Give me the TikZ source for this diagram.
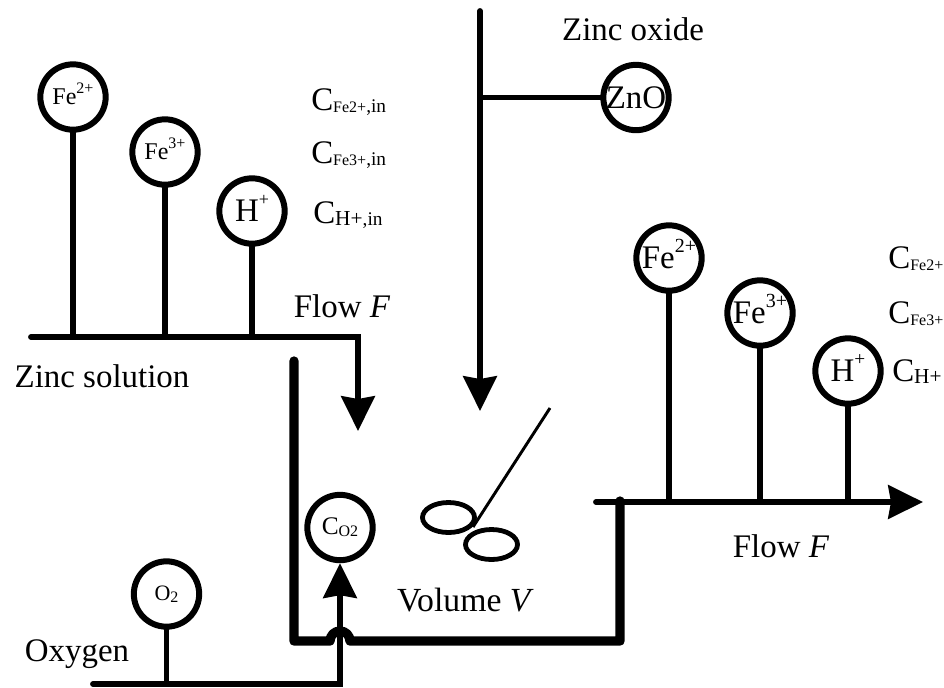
\documentclass[tikz,border=0pt]{standalone}
\usepackage{fontspec}
\setmainfont{Liberation Serif}
\usetikzlibrary{arrows.meta, calc}
\newcommand{\figArrow}{{Stealth[length=26pt, width=25pt, inset=2pt]}}
\newcommand{\bigFont}{\fontsize{24.7}{28}\selectfont}
\newcommand{\midFont}{\fontsize{19}{23}\selectfont}
\newcommand{\smallFont}{\fontsize{18}{22}\selectfont}
\newcommand{\subText}[2]{\raisebox{-1.5pt}{\fontsize{#1}{#1}\selectfont #2}}
\newcommand{\supText}[2]{\smash{\raisebox{0.48em}{\fontsize{#1}{#1}\selectfont #2}}}
\tikzset{
	ion/.style={circle, draw=black, line width=4.5pt, fill=white, minimum size=49pt, inner sep=0pt},
	stem/.style={line width=4.4pt, line cap=round},
	wall/.style={line width=7pt, line join=round, line cap=round},
	txt/.style={inner sep=0pt, font=\bigFont},
	conc/.style={inner sep=0pt, anchor=west, font=\bigFont},
}
\begin{document}
\begin{tikzpicture}[x=0.75pt, y=-0.75pt]
	\useasboundingbox (0,0) rectangle (944,687);

	% inlet
	\node[ion, font=\smallFont] (FeIIin) at (73,97) {Fe\supText{12}{2+}};
	\node[ion, font=\smallFont] (FeIIIin) at (165,152) {Fe\supText{12}{3+}};
	\node[ion, font=\bigFont] (Hin) at (252,211) {H\supText{13.5}{+}};
	\coordinate (inStart) at (31,337);
	\coordinate (inCorner) at (358,337);
	\coordinate (inEnd) at (358,431);
	\draw[stem, -\figArrow] (inStart) -- (inCorner) -- (inEnd);
	\draw[stem] (FeIIin) -- (FeIIin |- inStart);
	\draw[stem] (FeIIIin) -- (FeIIIin |- inStart);
	\draw[stem] (Hin) -- (Hin |- inStart);
	\node[conc] (cFeIIin) at (311,102) {C\subText{12}{Fe2+}\subText{14.5}{,in}};
	\node[conc] (cFeIIIin) at (311,155) {C\subText{12}{Fe3+}\subText{14.5}{,in}};
	\node[conc] (cHin) at (313,215) {C\subText{16}{H+}\subText{14.5}{,in}};
	\node[txt] (flowIn) at (342,306) {Flow \textit{F}};
	\node[txt] (zincSol) at (102,376) {Zinc solution};

	% zinc oxide
	\node[ion, font=\bigFont] (ZnO) at (636,97.5) {ZnO};
	\node[txt] (zincOx) at (633,29) {Zinc oxide};
	\coordinate (oxStart) at (480,11);
	\coordinate (oxEnd) at (480,411);
	\draw[stem, -\figArrow] (oxStart) -- (oxEnd);
	\draw[stem] (oxStart |- ZnO) -- (ZnO);

	% tank
	\coordinate (wallTop) at (294,361);
	\coordinate (wallLeft) at (294,641);
	\coordinate (wallRight) at (620,641);
	\coordinate (wallEnd) at (620,501);
	\draw[wall] (wallTop) -- (wallLeft) -- (330,641) arc[start angle=180, end angle=360, radius=10] -- (wallRight) -- (wallEnd);
	\node[txt, font=\fontsize{25.3}{28}\selectfont] (vol) at (465.5,600) {V{}olume \textit{V}};

	% stirrer
	\coordinate (stirTop) at (550,408);
	\coordinate (stirEnd) at (473,527);
	\draw[line width=2.2pt] (stirTop) -- (stirEnd);
	\draw[line width=3.6pt] (448.5,517.5) circle[x radius=26, y radius=15];
	\draw[line width=3.6pt] (491.5,544.5) circle[x radius=26, y radius=15];

	% oxygen
	\node[ion, font=\bigFont] (Otwo) at (166.5,594) {\fontsize{16.5}{20}\selectfont O\subText{12}{2}};
	\node[ion, font=\midFont] (cOtwo) at (340,527.5) {C\subText{12}{O2}};
	\coordinate (oxyStart) at (93,684);
	\coordinate (oxyCorner) at (340,684);
	\draw[stem, -\figArrow] (oxyStart) -- (oxyCorner) -- (cOtwo.south);
	\draw[stem] (Otwo) -- (Otwo |- oxyStart);
	\node[txt] (oxy) at (77,654) {Oxygen};

	% outlet
	\node[ion, font=\bigFont] (FeIIout) at (669,258) {Fe\supText{15}{2+}};
	\node[ion, font=\bigFont] (FeIIIout) at (760,313) {Fe\supText{15}{3+}};
	\node[ion, font=\bigFont] (Hout) at (848,371) {H\supText{14.5}{+}};
	\coordinate (outStart) at (596,502);
	\coordinate (outEnd) at (923,502);
	\draw[stem, -\figArrow] (outStart) -- (outEnd);
	\draw[stem] (FeIIout) -- (FeIIout |- outStart);
	\draw[stem] (FeIIIout) -- (FeIIIout |- outStart);
	\draw[stem] (Hout) -- (Hout |- outStart);
	\node[conc] (cFeIIout) at (888,259) {C\subText{12}{Fe2+}};
	\node[conc] (cFeIIIout) at (888,314) {C\subText{12}{Fe3+}};
	\node[conc] (cHout) at (892,372) {C\subText{16}{H+}};
	\node[txt] (flowOut) at (781,546) {Flow \textit{F}};
\end{tikzpicture}
\end{document}
